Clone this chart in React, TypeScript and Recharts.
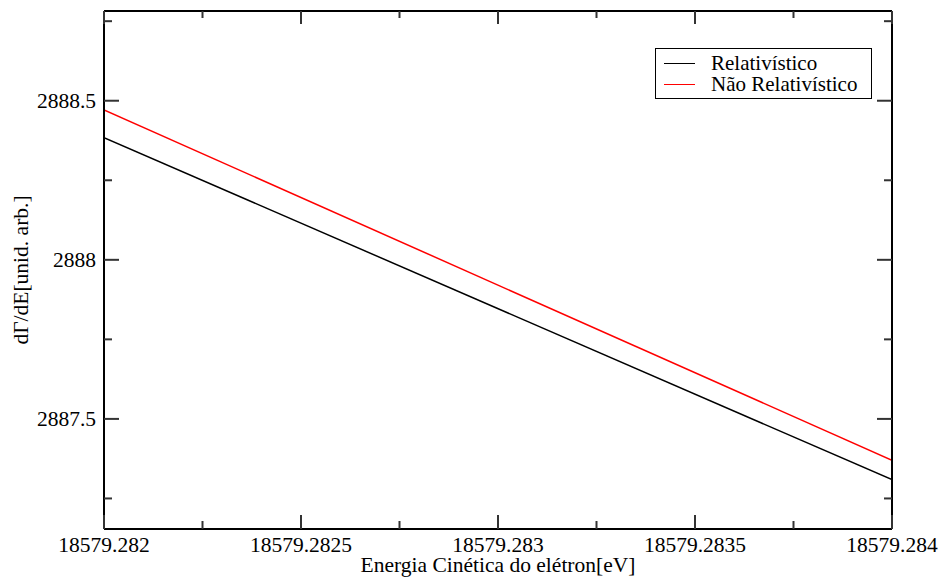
import React from "react";
import { LineChart, Line, XAxis, YAxis } from "recharts";

const FONT = "'Liberation Serif', 'Times New Roman', serif";
const FS = 21.5;
const TICK = "#333";

// kinetic energy of the electron (eV)
const energy = [18579.282, 18579.284];
// dΓ/dE (arb. units)
const relativistic = [2888.384, 2887.309];
const naoRelativistic = [2888.471, 2887.37];

const seriesNames = ["Relativístico", "Não Relativístico"];
const seriesColors = ["#000000", "#ff0000"];

const xMajor = [18579.282, 18579.2825, 18579.283, 18579.2835, 18579.284];
const xMinor = [18579.28225, 18579.28275, 18579.28325, 18579.28375];
const yMajor = [2887.5, 2888, 2888.5];
const yMinor = [2887.25, 2887.75, 2888.25, 2888.75];

const xDomain = [18579.282, 18579.284];
const yDomain = [2887.154, 2888.782];

const rows = energy.map((e, i) => ({ e, rel: relativistic[i], nrel: naoRelativistic[i] }));
const xTicks = [...xMajor, ...xMinor].sort((a, b) => a - b);
const yTicks = [...yMajor, ...yMinor].sort((a, b) => a - b);

const isMajor = (v: number, list: number[]) => list.some((m) => Math.abs(m - v) < 1e-7);

// ticks point into the plot on every side; labels only on bottom/left
function BottomTick({ x, y, payload }: any) {
  const major = isMajor(payload.value, xMajor);
  return (
    <g>
      <line x1={x} x2={x} y1={y} y2={y - (major ? 14 : 8)} stroke={TICK} strokeWidth={2} />
      {major && (
        <text x={x} y={y + 23} textAnchor="middle" fill="#000" fontSize={FS} fontFamily={FONT}>
          {String(payload.value)}
        </text>
      )}
    </g>
  );
}

function TopTick({ x, y, payload }: any) {
  const major = isMajor(payload.value, xMajor);
  return <line x1={x} x2={x} y1={y} y2={y + (major ? 13 : 7)} stroke={TICK} strokeWidth={2} />;
}

function LeftTick({ x, y, payload }: any) {
  const major = isMajor(payload.value, yMajor);
  return (
    <g>
      <line x1={x} x2={x + (major ? 15 : 8)} y1={y} y2={y} stroke={TICK} strokeWidth={2} />
      {major && (
        <text x={x - 8} y={y + 7} textAnchor="end" fill="#000" fontSize={FS} fontFamily={FONT}>
          {String(payload.value)}
        </text>
      )}
    </g>
  );
}

function RightTick({ x, y, payload }: any) {
  const major = isMajor(payload.value, yMajor);
  return <line x1={x} x2={x - (major ? 15 : 8)} y1={y} y2={y} stroke={TICK} strokeWidth={2} />;
}

const axisLine = { stroke: "#000", strokeWidth: 2 };

export default function App() {
  return (
    <div style={{ position: "absolute", left: 0, top: 0, width: 940, height: 577, background: "#fff", fontFamily: FONT }}>
      <LineChart width={940} height={577} data={rows} margin={{ top: 10, right: 47, left: 0, bottom: 0 }}>
        <XAxis dataKey="e" type="number" domain={xDomain} allowDataOverflow ticks={xTicks} interval={0}
          height={48} tickSize={0} tickMargin={0} tickLine={false} axisLine={axisLine} tick={<BottomTick />} />
        <XAxis xAxisId="top" orientation="top" dataKey="e" type="number" domain={xDomain} allowDataOverflow ticks={xTicks}
          interval={0} height={1} tickSize={0} tickMargin={0} tickLine={false} axisLine={axisLine} tick={<TopTick />} />
        <YAxis type="number" domain={yDomain} allowDataOverflow ticks={yTicks} interval={0} width={104}
          tickSize={0} tickMargin={0} tickLine={false} axisLine={axisLine} tick={<LeftTick />} />
        <YAxis yAxisId="right" orientation="right" type="number" domain={yDomain} allowDataOverflow ticks={yTicks}
          interval={0} width={1} tickSize={0} tickMargin={0} tickLine={false} axisLine={axisLine} tick={<RightTick />} />
        <Line type="linear" dataKey="rel" name={seriesNames[0]} stroke={seriesColors[0]} strokeWidth={1.5} dot={false} isAnimationActive={false} />
        <Line type="linear" dataKey="nrel" name={seriesNames[1]} stroke={seriesColors[1]} strokeWidth={1.5} dot={false} isAnimationActive={false} />
        <text x={498} y={572} textAnchor="middle" fill="#000" fontSize={FS} fontFamily={FONT}>
          Energia Cinética do elétron[eV]
        </text>
        <text x={28} y={270} transform="rotate(-90 28 270)" textAnchor="middle" fill="#000" fontSize={FS} fontFamily={FONT}>
          dΓ/dE[unid. arb.]
        </text>
      </LineChart>
      <div style={{ position: "absolute", left: 655, top: 48, width: 217, height: 51, boxSizing: "border-box",
        border: "1px solid #000", background: "#fff", paddingTop: 4, paddingLeft: 8 }}>
        {seriesNames.map((n, i) => (
          <div key={n} style={{ display: "flex", alignItems: "center", height: 21, lineHeight: "21px", fontSize: 21, whiteSpace: "nowrap" }}>
            <span style={{ display: "inline-block", width: 31, height: 0, borderTop: `1.5px solid ${seriesColors[i]}`, marginRight: 16 }} />
            <span>{n}</span>
          </div>
        ))}
      </div>
    </div>
  );
}
